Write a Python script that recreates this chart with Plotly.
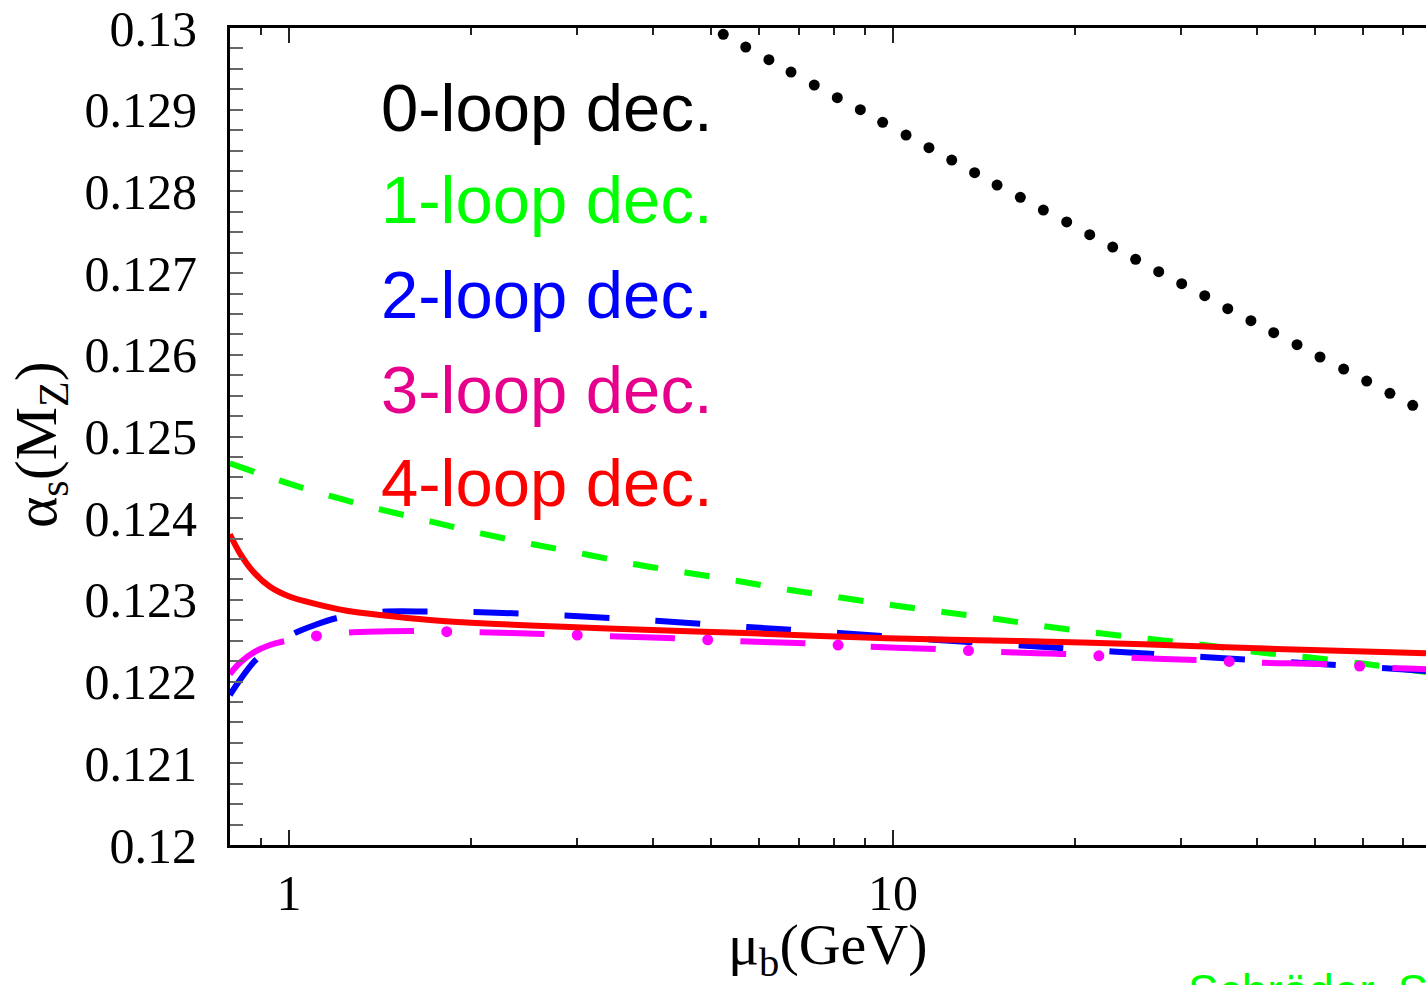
import plotly.graph_objects as go

# ---------------- data ----------------
mu_0 = [5.236, 5.704, 6.231, 6.779, 7.407, 8.087, 8.830, 9.614, 10.51, 11.47, 12.51, 13.65,
        14.87, 16.25, 17.74, 19.39, 21.17, 23.11, 25.22, 27.54, 30.06, 32.82, 35.83, 39.14,
        42.69, 46.66, 50.93, 55.74, 60.85, 66.49, 72.53]
as_0 = [0.129923, 0.129767, 0.129612, 0.129461, 0.129302, 0.129147, 0.129000, 0.128846,
        0.128690, 0.128535, 0.128384, 0.128229, 0.128078, 0.127928, 0.127772, 0.127626,
        0.127470, 0.127319, 0.127169, 0.127017, 0.126870, 0.126723, 0.126564, 0.126417,
        0.126271, 0.126124, 0.125973, 0.125826, 0.125679, 0.125529, 0.125382]

mu_1 = [0.798, 0.966, 1.169, 1.415, 1.712, 2.079, 2.535, 3.079, 3.740, 4.559, 5.538, 6.752,
        8.233, 10.0, 12.19, 14.87, 18.06, 22.01, 26.84, 32.73, 39.90, 48.65, 59.32, 76.29]
as_1 = [0.124672, 0.124459, 0.124272, 0.124109, 0.123962, 0.123815, 0.123681, 0.123562,
        0.123436, 0.123333, 0.123231, 0.123121, 0.123027, 0.122934, 0.122848, 0.122766,
        0.122672, 0.122591, 0.122518, 0.122448, 0.122362, 0.122297, 0.122224, 0.122118]

mu_2 = [0.798, 0.8294, 0.8785, 0.9480, 1.020, 1.104, 1.196, 1.311, 1.429, 1.697, 2.019, 2.403,
        2.864, 3.401, 4.052, 5.746, 8.140, 11.51, 16.34, 23.08, 32.64, 46.30, 65.49, 76.29]
as_2 = [0.121836, 0.122020, 0.122256, 0.122448, 0.122591, 0.122693, 0.122775, 0.122821,
        0.122856, 0.122858, 0.122852, 0.122834, 0.122809, 0.122778, 0.122745, 0.122668,
        0.122595, 0.122515, 0.122442, 0.122368, 0.122301, 0.122234, 0.122163, 0.122130]

mu_3 = [0.798, 0.8294, 0.8785, 0.9301, 0.9737, 1.108, 1.254, 1.415, 1.606, 1.819, 2.072, 2.636,
        2.995, 3.401, 4.345, 5.580, 7.150, 9.161, 11.77, 15.10, 19.34, 24.85, 31.83, 40.88,
        52.24, 67.18, 76.29]
as_3 = [0.122093, 0.122231, 0.122366, 0.122448, 0.122488, 0.122558, 0.122599, 0.122613,
        0.122619, 0.122611, 0.122603, 0.122583, 0.122570, 0.122554, 0.122530, 0.122493,
        0.122469, 0.122427, 0.122399, 0.122362, 0.122338, 0.122293, 0.122264, 0.122231,
        0.122212, 0.122166, 0.122151]

mu_4 = [0.798, 0.8294, 0.8726, 0.9301, 1.004, 1.097, 1.246, 1.415, 1.712, 2.207, 2.846, 3.669,
        5.871, 9.763, 16.23, 25.97, 43.18, 76.29]
as_4 = [0.123803, 0.123570, 0.123345, 0.123162, 0.123039, 0.122958, 0.122868, 0.122815,
        0.122754, 0.122705, 0.122672, 0.122640, 0.122591, 0.122530, 0.122497, 0.122457,
        0.122399, 0.122346]

labels = ["0-loop dec.", "1-loop dec.", "2-loop dec.", "3-loop dec.", "4-loop dec."]
label_colors = ["#000000", "#00ff00", "#0000ff", "#e6008c", "#ff0000"]

y_tickvals = [0.120, 0.121, 0.122, 0.123, 0.124, 0.125, 0.126, 0.127, 0.128, 0.129, 0.130]
y_ticktext = ["0.12", "0.121", "0.122", "0.123", "0.124", "0.125", "0.126", "0.127",
              "0.128", "0.129", "0.13"]
x_tickvals = [1, 10]
x_ticktext = ["1", "10"]
x_minor = [0.9, 2, 3, 4, 5, 6, 7, 8, 9, 20, 30, 40, 50, 60, 70, 80, 90]

# ---------------- figure ----------------
fig = go.Figure()

fig.add_trace(go.Scatter(x=mu_0, y=as_0, mode="markers",
                         marker=dict(color="black", size=11), cliponaxis=True))
fig.add_trace(go.Scatter(x=mu_1, y=as_1, mode="lines",
                         line=dict(color="#00ff00", width=6, dash="25.5px,26.5px",
                                   shape="spline", smoothing=0.8)))
fig.add_trace(go.Scatter(x=mu_2, y=as_2, mode="lines",
                         line=dict(color="#0000ff", width=6, dash="45px,46px",
                                   shape="spline", smoothing=0.8)))
fig.add_trace(go.Scatter(x=mu_3, y=as_3, mode="lines",
                         line=dict(color="#ff00ff", width=6, dash="65px,65.5px",
                                   shape="spline", smoothing=0.8)))
fig.add_trace(go.Scatter(x=mu_3, y=as_3, mode="lines", uid="magdots",
                         line=dict(color="#ff00ff", width=11, dash="1px,129.5px",
                                   shape="spline", smoothing=0.8)))
fig.add_trace(go.Scatter(x=mu_4, y=as_4, mode="lines",
                         line=dict(color="#ff0000", width=6, shape="spline", smoothing=0.8)))

serif = "Liberation Serif"
sans = "Liberation Sans"

fig.update_layout(
    width=1426, height=985,
    margin=dict(l=230, r=0, t=28, b=140),
    paper_bgcolor="white", plot_bgcolor="white",
    showlegend=False,
    xaxis=dict(
        type="log", range=[-0.0977, 1.8825],
        showgrid=False, zeroline=False,
        showline=True, linecolor="black", linewidth=3, mirror="ticks",
        ticks="inside", ticklen=15, tickwidth=1.5, tickcolor="#222",
        tickmode="array", tickvals=x_tickvals, ticktext=x_ticktext,
        tickfont=dict(family=serif, size=50, color="black"),
        ticklabelstandoff=2,
        minor=dict(tickmode="array", tickvals=x_minor, ticks="inside",
                   ticklen=7, tickwidth=1.5, tickcolor="#222"),
    ),
    yaxis=dict(
        range=[0.12, 0.13],
        showgrid=False, zeroline=False,
        showline=True, linecolor="black", linewidth=3, mirror=False,
        ticks="inside", ticklen=13, tickwidth=1.5, tickcolor="#666",
        tickmode="array", tickvals=y_tickvals, ticktext=y_ticktext,
        tickfont=dict(family=serif, size=50, color="black"),
        ticklabelstandoff=20,
        minor=dict(dtick=0.00025, ticks="inside", ticklen=13, tickwidth=1.5,
                   tickcolor="#666"),
    ),
)

# legend-like labels
label_y = [0.9033, 0.7895, 0.6732, 0.5581, 0.4431]
for txt, col, yy in zip(labels, label_colors, label_y):
    fig.add_annotation(text=txt, xref="paper", yref="paper", x=0.1246, y=yy,
                       xanchor="left", yanchor="middle", showarrow=False,
                       font=dict(family=sans, size=67, color=col))

# axis titles
fig.add_annotation(text="\u03b1<sub>s</sub>(M<sub>Z</sub>)", xref="paper", yref="paper",
                   x=-0.1585, y=0.4900, xanchor="center", yanchor="middle",
                   textangle=-90, showarrow=False,
                   font=dict(family=serif, size=60, color="black"))
fig.add_annotation(text="\u03bc<sub>b</sub>(GeV)", xref="paper", yref="paper",
                   x=0.5000, y=-0.0790, xanchor="center", yanchor="top",
                   showarrow=False, font=dict(family=serif, size=58, color="black"))

# credit text at the bottom right (cut by the page edge)
fig.add_annotation(text="Schr\u00f6der, Steinhauser", xref="paper", yref="paper",
                   x=0.7993, y=-0.1445, xanchor="left", yanchor="top",
                   showarrow=False, font=dict(family=sans, size=46, color="#00ff00"))

css = (".tracemagdots .js-line{stroke-linecap:round!important;"
       "stroke-dasharray:0 130.5!important;stroke-dashoffset:32.75px!important;}")
post = ("var st=document.createElement('style');st.innerHTML='" + css +
        "';document.head.appendChild(st);")

fig.write_html("out.html", post_script=post)
